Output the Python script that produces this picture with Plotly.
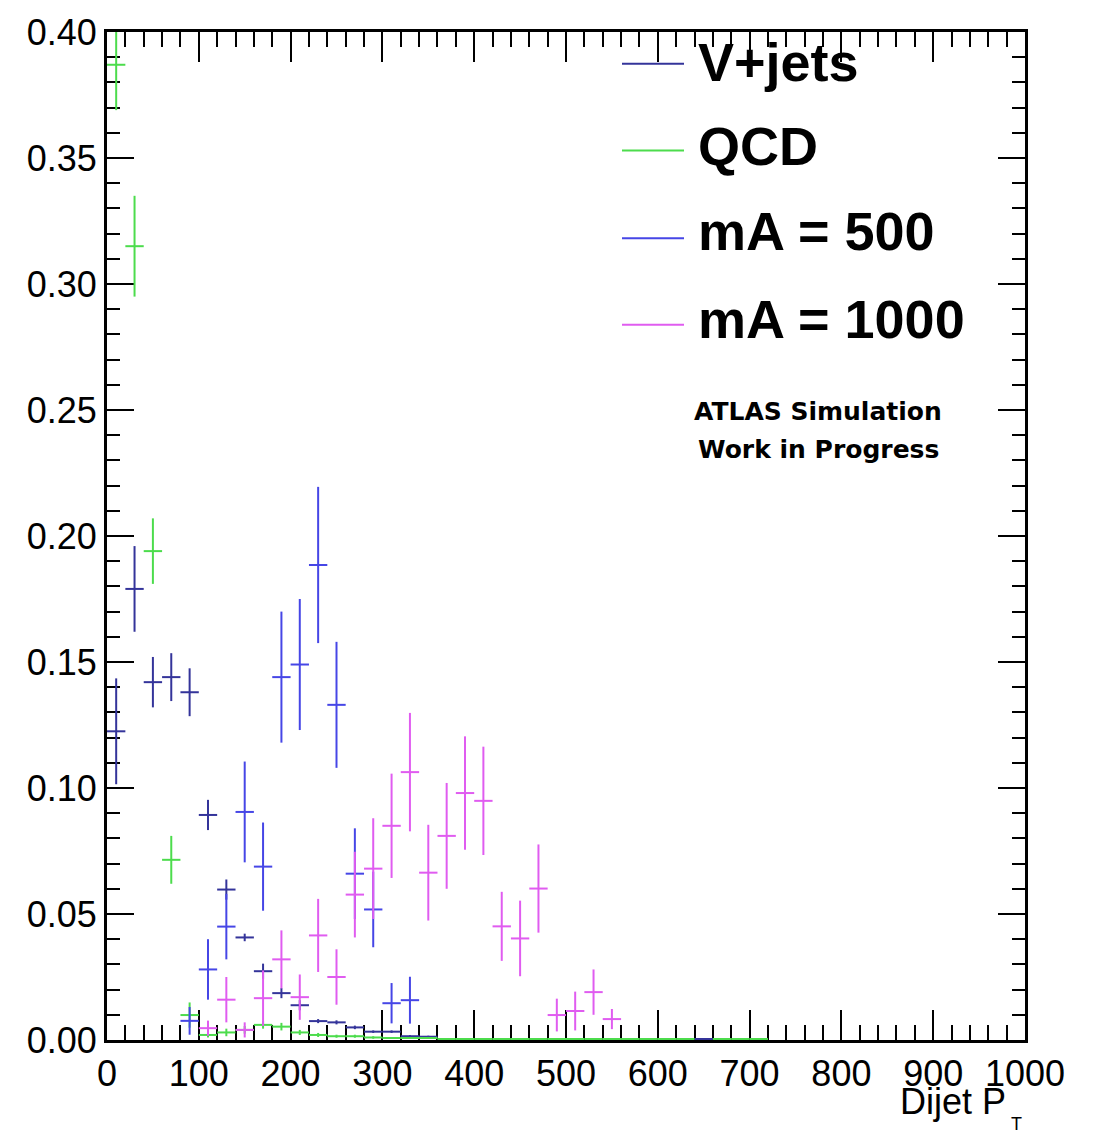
import plotly.graph_objects as go

# ---------------- data ----------------
pt_bins = [10, 30, 50, 70, 90, 110, 130, 150, 170, 190, 210, 230, 250, 270, 290, 310,
           330, 350, 370, 390, 410, 430, 450, 470, 490, 510, 530, 550, 570, 590, 610,
           630, 650, 670, 690, 710]
N = None

vjets_val = [0.1225, 0.179, 0.142, 0.144, 0.138, 0.0893, 0.0597, 0.0407, 0.0273, 0.0186,
             0.0138, 0.0075, 0.0070, 0.0050, 0.0033, 0.0033, 0.0015, 0.0013,
             N, N, N, N, N, N, N, N, N, N, N, N, N, N, 0.0, N, N, N]
vjets_err = [0.021, 0.017, 0.010, 0.0095, 0.0095, 0.006, 0.004, 0.0015, 0.003, 0.002,
             0.002, 0.0008, 0.0008, 0.0007, 0.0005, 0.0005, 0.0004, 0.0004,
             0, 0, 0, 0, 0, 0, 0, 0, 0, 0, 0, 0, 0, 0, 0, 0, 0, 0]

qcd_val = [0.387, 0.315, 0.194, 0.0715, 0.0099, 0.002, 0.003, 0.004, 0.006, 0.0053,
           0.003, 0.002, 0.0015, 0.0015, 0.001, 0.0008, 0.0008, 0.0008,
           0.0, 0.0, 0.0, 0.0, 0.0, 0.0, 0.0, 0.0, 0.0, 0.0, 0.0, 0.0, 0.0, 0.0, N, 0.0, 0.0, 0.0]
qcd_err = [0.018, 0.020, 0.013, 0.0095, 0.005, 0.001, 0.0015, 0.0015, 0.0015, 0.0015,
           0.001, 0.0008, 0.0006, 0.0006, 0.0005, 0.0004, 0.0004, 0.0004,
           0, 0, 0, 0, 0, 0, 0, 0, 0, 0, 0, 0, 0, 0, 0, 0, 0, 0]

ma500_val = [N, N, N, N, 0.0076, 0.028, 0.045, 0.0905, 0.0688, 0.144, 0.149, 0.1885,
             0.133, 0.066, 0.0518, 0.0146, 0.0158,
             N, N, N, N, N, N, N, N, N, N, N, N, N, N, N, N, N, N, N]
ma500_err = [0, 0, 0, 0, 0.0055, 0.012, 0.013, 0.020, 0.0175, 0.026, 0.026, 0.031,
             0.025, 0.018, 0.015, 0.008, 0.0093,
             0, 0, 0, 0, 0, 0, 0, 0, 0, 0, 0, 0, 0, 0, 0, 0, 0, 0, 0]

ma1000_val = [N, N, N, N, N, 0.0047, 0.016, 0.004, 0.0166, 0.032, 0.017, 0.0415, 0.025,
              0.0577, 0.068, 0.085, 0.1063, 0.0664, 0.081, 0.098, 0.0949, 0.0451, 0.0403,
              0.0601, 0.0099, 0.0115, 0.019, 0.0083, N, N, N, N, N, N, N, N]
ma1000_err = [0, 0, 0, 0, 0, 0.003, 0.009, 0.003, 0.011, 0.0115, 0.009, 0.0145, 0.011,
              0.017, 0.020, 0.0207, 0.0235, 0.019, 0.021, 0.0225, 0.0215, 0.0137, 0.015,
              0.0175, 0.0065, 0.0077, 0.009, 0.004, 0, 0, 0, 0, 0, 0, 0, 0]

bin_half_width = 10

series_names = ["V+jets", "QCD", "mA = 500", "mA = 1000"]
series_colors = ["#34349a", "#4cdc4c", "#4646e6", "#e05cf0"]
series_vals = [vjets_val, qcd_val, ma500_val, ma1000_val]
series_errs = [vjets_err, qcd_err, ma500_err, ma1000_err]

x_tick_vals = [0, 100, 200, 300, 400, 500, 600, 700, 800, 900, 1000]
y_tick_vals = [0.0, 0.05, 0.10, 0.15, 0.20, 0.25, 0.30, 0.35, 0.40]

# ---------------- layout geometry ----------------
W, H = 1094, 1134
L, R, T, B = 107, 69, 28, 94
PW, PH = W - L - R, H - T - B


def px(x):
    return (x - L) / PW


def py(y):
    return (H - B - y) / PH


def err_trace(name, col, xs, vals, errs, clip, thick):
    return go.Scatter(
        x=xs, y=vals, name=name, mode="markers",
        marker=dict(size=0, color=col, opacity=0),
        error_y=dict(type="data", array=errs, symmetric=True, color=col,
                     thickness=2, width=0),
        error_x=dict(type="constant", value=bin_half_width, color=col,
                     thickness=thick, width=0),
        showlegend=False, cliponaxis=clip,
    )


fig = go.Figure()
for name, col, vals, errs in zip(series_names, series_colors, series_vals, series_errs):
    # non-empty bins: clipped to the frame like ROOT does
    nz_vals = [v if (v is not None and v > 0) else None for v in vals]
    fig.add_trace(err_trace(name, col, pt_bins, nz_vals, errs, True, 2))
    # bins with zero content sit on the axis line: draw them on top of it
    z_vals = [v if (v is not None and v == 0) else None for v in vals]
    if any(v is not None for v in z_vals):
        fig.add_trace(err_trace(name, col, pt_bins, z_vals, errs, False, 4))

FONT = "Liberation Sans, Arial, Helvetica, sans-serif"

fig.update_xaxes(
    range=[0, 1000], tickmode="array", tickvals=x_tick_vals,
    ticktext=[str(v) for v in x_tick_vals],
    ticks="inside", ticklen=30, tickwidth=2, tickcolor="black",
    minor=dict(dtick=20, ticks="inside", ticklen=15, tickwidth=2, tickcolor="black"),
    showline=True, linewidth=3, linecolor="black", mirror="ticks",
    showgrid=False, zeroline=False, layer="below traces",
    tickfont=dict(family=FONT, size=36, color="black"),
)
fig.update_yaxes(
    range=[0, 0.40], tickmode="array", tickvals=y_tick_vals,
    ticktext=["%.2f" % v for v in y_tick_vals],
    ticks="inside", ticklen=27, tickwidth=2, tickcolor="black",
    minor=dict(dtick=0.01, ticks="inside", ticklen=13, tickwidth=2, tickcolor="black"),
    showline=True, linewidth=3, linecolor="black", mirror="ticks",
    showgrid=False, zeroline=False, layer="below traces",
    tickfont=dict(family=FONT, size=36, color="black"),
)

shapes = []
annotations = []
legend_line_y = [60, 147, 235, 322]
legend_text_y = [58, 142, 228, 316]
for name, col, ly, ty in zip(series_names, series_colors, legend_line_y, legend_text_y):
    shapes.append(dict(type="line", xref="paper", yref="paper",
                       x0=px(622), x1=px(684), y0=py(ly), y1=py(ly),
                       line=dict(color=col, width=2)))
    annotations.append(dict(xref="paper", yref="paper", x=px(696), y=py(ty),
                            xanchor="left", yanchor="middle", showarrow=False,
                            text="<b>%s</b>" % name,
                            font=dict(family=FONT, size=54, color="black")))

STAMP_FONT = "DejaVu Sans, Liberation Sans, sans-serif"
annotations.append(dict(xref="paper", yref="paper", x=px(818), y=py(409),
                        xanchor="center", yanchor="middle", showarrow=False,
                        text="<b>ATLAS Simulation</b>",
                        font=dict(family=STAMP_FONT, size=25, color="black")))
annotations.append(dict(xref="paper", yref="paper", x=px(818), y=py(447),
                        xanchor="center", yanchor="middle", showarrow=False,
                        text="<b>Work in Progress</b>",
                        font=dict(family=STAMP_FONT, size=25, color="black")))
annotations.append(dict(xref="paper", yref="paper", x=px(1008), y=py(1102),
                        xanchor="right", yanchor="middle", showarrow=False,
                        text="Dijet P",
                        font=dict(family=FONT, size=36, color="black")))
annotations.append(dict(xref="paper", yref="paper", x=px(1016), y=py(1124),
                        xanchor="center", yanchor="middle", showarrow=False,
                        text="T",
                        font=dict(family=FONT, size=18, color="black")))

fig.update_layout(
    width=W, height=H,
    margin=dict(l=L, r=R, t=T, b=B, pad=0),
    paper_bgcolor="white", plot_bgcolor="white",
    shapes=shapes, annotations=annotations,
    showlegend=False,
)

fig.write_html("out.html")
